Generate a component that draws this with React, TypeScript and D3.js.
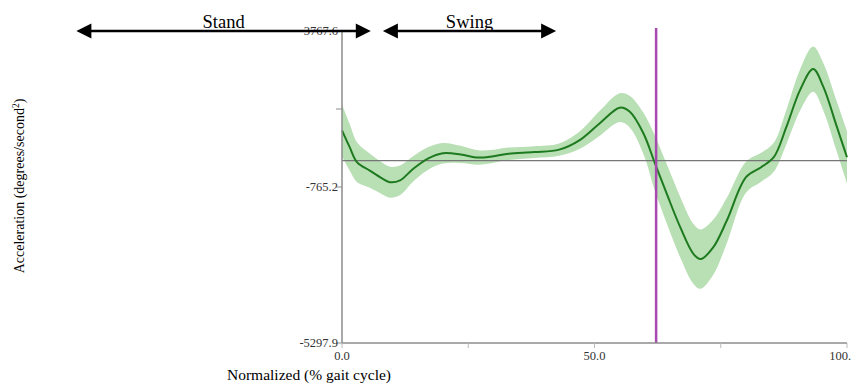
import React from "react";
import * as d3 from "d3";

const pct = [0, 1.5, 3, 5.5, 8, 9.5, 11.5, 14, 17, 20, 23.5, 27, 30, 33, 38, 43, 47, 51, 55, 57, 59.7, 62, 64.3, 67, 69.6, 71, 73.5, 76.2, 80, 83, 85.5, 88, 90.7, 93.3, 95.3, 98, 100];
const meanAcc = [882, 400, -50, -290, -520, -625, -570, -250, 60, 215, 180, 90, 130, 200, 250, 320, 590, 1080, 1540, 1420, 790, -90, -960, -1940, -2710, -2860, -2520, -1740, -480, -190, 100, 980, 2050, 2660, 2150, 980, 100];
const sdAcc = [760, 680, 580, 500, 460, 450, 430, 370, 330, 300, 250, 210, 190, 180, 170, 180, 250, 360, 420, 460, 600, 800, 860, 880, 870, 860, 800, 660, 450, 420, 420, 500, 600, 660, 690, 730, 760];

const yTop = 3767.6;
const yBottom = -5297.9;
const yTickValues = [3767.6, 1501.2, -765.2, -5297.9];
const yTickLabels = ["3767.6", "", "-765.2", "-5297.9"];
const xTickValues = [0, 25, 50, 75, 100];
const xTickLabels = ["0.0", "", "50.0", "", "100."];
const eventPct = 62.2;
const phases = [
  { label: "Stand", from: -52.6, to: 5.7 },
  { label: "Swing", from: 8.1, to: 42.4 },
];

export default function App() {
  const W = 852, H = 385;
  const x = d3.scaleLinear().domain([0, 100]).range([342, 847]);
  const y = d3.scaleLinear().domain([yBottom, yTop]).range([343, 31]);
  const data = pct.map((p, i) => ({ p, m: meanAcc[i], s: sdAcc[i] }));
  const area = d3.area<any>().x(d => x(d.p)).y0(d => y(d.m - d.s)).y1(d => y(d.m + d.s)).curve(d3.curveCatmullRom);
  const line = d3.line<any>().x(d => x(d.p)).y(d => y(d.m)).curve(d3.curveCatmullRom);
  const font = "'Liberation Serif', 'Times New Roman', serif";
  const arrowY = 31;
  const head = (tipX: number, dir: number) => {
    const l = 15, h = 7.5;
    return `M${tipX},${arrowY} L${tipX - dir * l},${arrowY - h} L${tipX - dir * l},${arrowY + h} Z`;
  };
  return (
    <svg width={W} height={H} style={{ position: "absolute", left: 0, top: 0 }} fontFamily={font}>
      <rect width={W} height={H} fill="#fff" />
      <path d={area(data) || ""} fill="#b9dfb5" />
      <line x1={x(0)} x2={x(100)} y1={y(0)} y2={y(0)} stroke="#777" strokeWidth={1.2} />
      <path d={line(data) || ""} fill="none" stroke="#1e7a1e" strokeWidth={2} />
      <line x1={x(eventPct)} x2={x(eventPct)} y1={28} y2={343} stroke="#a64ab0" strokeWidth={2.5} />
      <line x1={x(0)} x2={x(0)} y1={y(yTop)} y2={y(yBottom)} stroke="#8c8c8c" strokeWidth={1.5} />
      <line x1={x(0)} x2={x(100)} y1={y(yBottom)} y2={y(yBottom)} stroke="#8c8c8c" strokeWidth={1.5} />
      {yTickValues.map((v, i) => (
        <g key={"y" + i}>
          <line x1={x(0) - 6} x2={x(0)} y1={y(v)} y2={y(v)} stroke="#8c8c8c" strokeWidth={1} />
          {yTickLabels[i] && (
            <text x={x(0) - 4} y={y(v)} dy="0.35em" textAnchor="end" fontSize={12.5} fill="#333">{yTickLabels[i]}</text>
          )}
        </g>
      ))}
      {xTickValues.map((v, i) => (
        <g key={"x" + i}>
          <line x1={x(v)} x2={x(v)} y1={y(yBottom)} y2={y(yBottom) + 5} stroke="#bbb" strokeWidth={1} />
          {xTickLabels[i] && (
            <text x={i === xTickValues.length - 1 ? 851 : x(v)} y={y(yBottom) + 17} textAnchor={i === xTickValues.length - 1 ? "end" : "middle"} fontSize={12.5} fill="#333">{xTickLabels[i]}</text>
          )}
        </g>
      ))}
      {phases.map((ph, i) => {
        const x1 = x(ph.from), x2 = x(ph.to);
        return (
          <g key={"ph" + i}>
            <line x1={x1 + 10} x2={x2 - 10} y1={arrowY} y2={arrowY} stroke="#000" strokeWidth={2.4} />
            <path d={head(x1, -1)} fill="#000" />
            <path d={head(x2, 1)} fill="#000" />
            <text x={(x1 + x2) / 2} y={arrowY - 3} textAnchor="middle" fontSize={18.5} fill="#000">{ph.label}</text>
          </g>
        );
      })}
      <text x={309} y={380} textAnchor="middle" fontSize={15.5} fill="#000">Normalized (% gait cycle)</text>
      <text transform="translate(24,186) rotate(-90)" textAnchor="middle" fontSize={14} fill="#000">
        Acceleration (degrees/second<tspan dy="-5" fontSize={9.5}>2</tspan><tspan dy="5">)</tspan>
      </text>
    </svg>
  );
}
